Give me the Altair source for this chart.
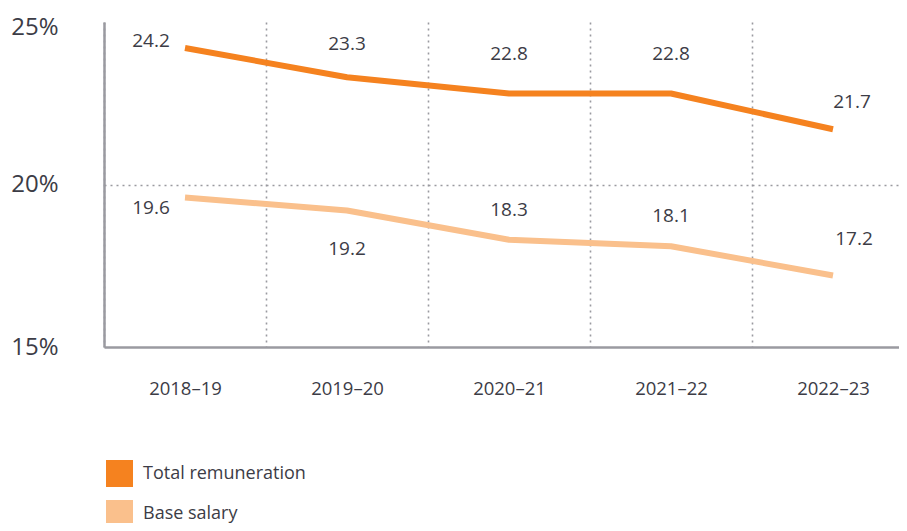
import altair as alt
import pandas as pd

years = ["2018–19", "2019–20", "2020–21", "2021–22", "2022–23"]
series = ["Total remuneration", "Base salary"]
total = [24.2, 23.3, 22.8, 22.8, 21.7]
base_salary = [19.6, 19.2, 18.3, 18.1, 17.2]
colors = ["#F5821F", "#FAC08C"]
y_ticks = [15, 20, 25]

rows = []
for y, v in zip(years, total):
    rows.append({"year": y, "series": series[0], "value": v})
for y, v in zip(years, base_salary):
    rows.append({"year": y, "series": series[1], "value": v})
df = pd.DataFrame(rows)

TXT = "#3c3c46"
FONT = "Open Sans"
GRID = "#9a9aa0"

xscale = alt.Scale(type="band", domain=years, range=[0, 810], paddingInner=0, paddingOuter=0)
yscale = alt.Scale(domain=[15, 25], nice=False, zero=False)

xenc = alt.X("year:N", sort=years, scale=xscale,
             axis=alt.Axis(title=None, labelAngle=0, labelFontSize=18.5, labelFont=FONT,
                           labelColor=TXT, labelPadding=32, ticks=False, tickBand="extent",
                           grid=True, gridDash=[2, 4], gridColor=GRID, gridWidth=1.6,
                           domainColor=GRID, domainWidth=2.5))
yenc = alt.Y("value:Q", scale=yscale,
             axis=alt.Axis(title=None, values=y_ticks, labelExpr="datum.value + '%'",
                           labelFontSize=24, labelFont=FONT, labelColor=TXT,
                           labelPadding=46, ticks=False, grid=True, gridDash=[2, 4],
                           gridColor=GRID, gridWidth=1.6,
                           labelOffset={"condition": {"test": "datum.value === 25", "value": 5}, "value": 0},
                           gridOpacity={"condition": {"test": "datum.value === 20", "value": 1}, "value": 0},
                           domainColor=GRID, domainWidth=2.5))

color_scale = alt.Scale(domain=series, range=colors)

base = alt.Chart(df).encode(x=xenc, y=yenc)

lines = base.mark_line(strokeWidth=6, strokeCap="butt", strokeJoin="bevel").encode(
    color=alt.Color("series:N", scale=color_scale, legend=None)
)

legend_layer = base.transform_filter("false").mark_square(filled=True, opacity=1).encode(
    color=alt.Color("series:N", scale=color_scale,
                    legend=alt.Legend(title=None, orient="none", legendX=2, legendY=438,
                                      direction="vertical", symbolType="square",
                                      symbolSize=729, symbolStrokeWidth=0,
                                      labelFontSize=18, labelFont=FONT, labelColor=TXT,
                                      labelLimit=400,
                                      labelOffset=10, rowPadding=13, padding=0))
)

label_groups = [
    (series[0], years[:1], -34, -7),
    (series[0], years[1:2], 0, -33),
    (series[0], years[2:4], 0, -40),
    (series[0], years[4:], 19, -27),
    (series[1], years[:1], -34, 10),
    (series[1], years[1:2], 0, 38),
    (series[1], years[2:4], 0, -30),
    (series[1], years[4:], 21, -37),
]

text_layers = []
for s, ys, dx, dy in label_groups:
    t = base.transform_filter(
        alt.FieldEqualPredicate(field="series", equal=s)
    ).transform_filter(
        alt.FieldOneOfPredicate(field="year", oneOf=ys)
    ).mark_text(dx=dx, dy=dy, fontSize=19, font=FONT, color=TXT, baseline="middle").encode(
        text=alt.Text("value:Q", format=".1f")
    )
    text_layers.append(t)

chart = alt.layer(lines, legend_layer, *text_layers).resolve_legend(
    color="independent"
).properties(
    width=795, height=325, autosize="none",
    padding={"left": 96, "top": 14, "right": 0, "bottom": 176},
).configure_view(strokeWidth=0)

chart.save("out.html", embed_options={"renderer": "svg", "actions": False})
